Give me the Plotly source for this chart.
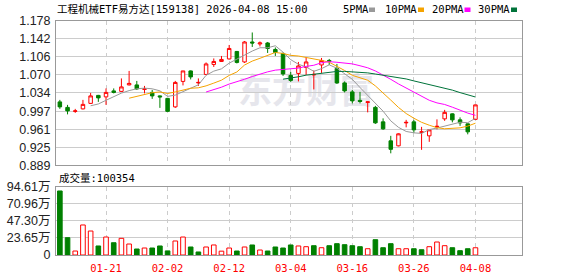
import plotly.graph_objects as go
import pandas as pd

# ---------------- data ----------------
opens = [1.016, 1.005, 0.997, 1.002, 1.013, 1.029, 1.026, 1.038, 1.037, 1.050,
         1.050, 1.041, 1.035, 1.028, 1.023, 1.006, 1.057, 1.078, 1.054, 1.071,
         1.091, 1.097, 1.102, 1.117, 1.096, 1.136, 1.132, 1.134, 1.121, 1.113,
         1.069, 1.073, 1.085, 1.070, 1.090, 1.099, 1.083, 1.054, 1.036, 1.019,
         1.015, 1.005, 0.976, 0.938, 0.928, 0.974, 0.976, 0.955, 0.948, 0.966,
         0.982, 0.992, 0.980, 0.972, 0.981]
highs = [1.020, 1.010, 1.002, 1.020, 1.034, 1.030, 1.043, 1.043, 1.063, 1.078,
         1.058, 1.048, 1.040, 1.029, 1.024, 1.058, 1.078, 1.079, 1.063, 1.095,
         1.103, 1.108, 1.130, 1.118, 1.138, 1.155, 1.137, 1.136, 1.125, 1.115,
         1.076, 1.096, 1.106, 1.079, 1.104, 1.102, 1.092, 1.057, 1.040, 1.036,
         1.017, 1.008, 0.983, 0.948, 0.953, 0.980, 0.980, 0.966, 0.960, 0.981,
         1.000, 0.993, 0.985, 0.973, 1.010]
lows = [1.002, 0.991, 0.994, 1.001, 1.012, 1.016, 1.010, 1.033, 1.036, 1.049,
        1.040, 1.033, 1.022, 1.004, 0.996, 1.004, 1.049, 1.061, 1.048, 1.070,
        1.086, 1.096, 1.101, 1.093, 1.094, 1.126, 1.127, 1.114, 1.108, 1.068,
        1.056, 1.057, 1.070, 1.041, 1.074, 1.090, 1.052, 1.035, 1.013, 1.013,
        0.995, 0.972, 0.960, 0.913, 0.927, 0.965, 0.954, 0.920, 0.936, 0.961,
        0.978, 0.975, 0.968, 0.951, 0.981]
closes = [1.006, 0.998, 0.998, 1.011, 1.028, 1.024, 1.035, 1.035, 1.046, 1.053,
          1.042, 1.042, 1.028, 1.026, 0.997, 1.055, 1.078, 1.066, 1.055, 1.092,
          1.097, 1.101, 1.123, 1.095, 1.136, 1.134, 1.134, 1.123, 1.115, 1.072,
          1.059, 1.088, 1.096, 1.071, 1.099, 1.097, 1.054, 1.038, 1.018, 1.017,
          1.016, 0.974, 0.962, 0.921, 0.952, 0.975, 0.960, 0.956, 0.960, 0.967,
          0.995, 0.980, 0.974, 0.956, 1.010]
volumes = [887000, 240000, 55000, 416000, 332000, 125000, 249000, 170000, 231000, 152000,
           83000, 97000, 97000, 125000, 57000, 194000, 249000, 111000, 42000, 111000,
           139000, 53000, 97000, 55000, 111000, 139000, 69000, 55000, 111000, 97000,
           139000, 125000, 115000, 129000, 101000, 129000, 157000, 143000, 129000, 115000,
           87000, 212000, 101000, 157000, 87000, 87000, 87000, 73000, 115000, 180000,
           129000, 101000, 60000, 87000, 100354]
vol_up = [0, 0, 1, 1, 1, 0, 1, 0, 1, 1,
          0, 1, 0, 0, 0, 1, 1, 0, 0, 1,
          1, 1, 1, 0, 1, 0, 1, 0, 0, 0,
          0, 1, 1, 0, 1, 0, 0, 0, 0, 0,
          1, 0, 0, 0, 1, 1, 0, 0, 1, 1,
          1, 0, 0, 0, 1]
ma_windows = [5, 10, 20, 30]
ma_names = ["5PMA", "10PMA", "20PMA", "30PMA"]
date_tick_pos = [6, 14, 22, 30, 38, 46, 54]
date_tick_labels = ["01-21", "02-02", "02-12", "03-04", "03-16", "03-26", "04-08"]
price_tick_labels = ["0.889", "0.925", "0.961", "0.997", "1.034", "1.070", "1.106", "1.142", "1.178"]
vol_tick_vals = [0, 236500, 473000, 709600, 946100]
vol_tick_labels = ["0", "23.65万", "47.30万", "70.96万", "94.61万"]
title_text = "工程机械ETF易方达[159138] 2026-04-08 15:00"
vol_label = "成交量:100354"

# ---------------- styling / layout ----------------
RED = "#ff0000"
GREEN = "#008000"
MA_COLORS = ["#999999", "#f5a300", "#ff00ff", "#00733a"]
GRID = "#cccccc"
BORDER = "#999999"
MONO = "DejaVu Sans Mono, Noto Sans CJK SC"
SANS = "Liberation Sans, Arial, Noto Sans CJK SC"

W, H = 578, 276
ML, MR, MT, MB = 56, 56, 21, 21
PW, PH = W - ML - MR, H - MT - MB


def px_x(x):
    return (x - ML) / PW


def px_y(y):
    return (H - MB - y) / PH


x = list(range(len(closes)))
xr = [-0.5, 60.05]
close_s = pd.Series(closes)

fig = go.Figure()
fig.add_trace(go.Candlestick(
    x=x, open=opens, high=highs, low=lows, close=closes,
    increasing=dict(line=dict(color=RED, width=1), fillcolor="white"),
    decreasing=dict(line=dict(color=GREEN, width=1), fillcolor=GREEN),
    whiskerwidth=0, hoverinfo="skip", showlegend=False,
    xaxis="x", yaxis="y"))
for w, c in zip(ma_windows, MA_COLORS):
    ma = close_s.rolling(w, min_periods=w).mean()
    fig.add_trace(go.Scatter(x=x, y=ma, mode="lines", line=dict(color=c, width=1),
                             hoverinfo="skip", showlegend=False, xaxis="x", yaxis="y"))

fig.add_trace(go.Bar(
    x=x, y=volumes, width=0.6,
    marker=dict(color=["white" if u else GREEN for u in vol_up],
                line=dict(color=[RED if u else GREEN for u in vol_up], width=1)),
    hoverinfo="skip", showlegend=False, xaxis="x2", yaxis="y2"))

axis_common = dict(showline=True, mirror=True, linecolor=BORDER, linewidth=1,
                   zeroline=False, fixedrange=True, automargin=False)

fig.update_layout(
    template="none",
    width=W, height=H, margin=dict(l=ML, r=MR, t=MT, b=MB, pad=0),
    paper_bgcolor="white", plot_bgcolor="white",
    font=dict(family=SANS, size=12, color="#222222"),
    boxgap=0.35,
    xaxis=dict(domain=[0, 1], range=xr, anchor="y", tickvals=date_tick_pos,
               showticklabels=False, showgrid=True, gridcolor=GRID, gridwidth=1,
               griddash="4px,4px", ticks="", rangeslider=dict(visible=False), **axis_common),
    yaxis=dict(domain=[px_y(165.3), 1], range=[0.889, 1.178], anchor="x",
               tickvals=[float(t) for t in price_tick_labels], ticktext=price_tick_labels,
               tickfont=dict(family=SANS, size=12.5, color="#222222"),
               showgrid=True, gridcolor=GRID, gridwidth=1, ticks="outside", ticklen=2,
               tickcolor="rgba(0,0,0,0)", **axis_common),
    xaxis2=dict(domain=[0, 1], range=xr, anchor="y2", tickvals=date_tick_pos,
                ticktext=date_tick_labels, tickfont=dict(family=MONO, size=10.5, color=RED),
                showgrid=True, gridcolor=GRID, gridwidth=1, griddash="4px,4px",
                ticks="outside", ticklen=3, tickcolor="rgba(0,0,0,0)", **axis_common),
    yaxis2=dict(domain=[0, px_y(186.7)], range=[0, 946100], anchor="x2",
                tickvals=vol_tick_vals, ticktext=vol_tick_labels,
                tickfont=dict(family=SANS, size=12.5, color="#222222"),
                showgrid=True, gridcolor=GRID, gridwidth=1, ticks="outside", ticklen=2,
                tickcolor="rgba(0,0,0,0)", **axis_common),
)

annotations = [
    dict(text=title_text, x=px_x(55), y=px_y(9.5), xref="paper", yref="paper",
         xanchor="left", yanchor="middle", align="left", showarrow=False,
         font=dict(family=MONO, size=10.5, color="#000000")),
    dict(text=vol_label, x=px_x(56.5), y=px_y(177.5), xref="paper", yref="paper",
         xanchor="left", yanchor="middle", align="left", showarrow=False,
         font=dict(family=MONO, size=10.5, color="#000000")),
]
shapes = []
legend_x = [342.5, 384, 431, 477.5]
square_x = [369, 418, 464.5, 511]
for name, c, lx, sx in zip(ma_names, MA_COLORS, legend_x, square_x):
    annotations.append(dict(text=name, x=px_x(lx - 1.5), y=px_y(9.5), xref="paper", yref="paper",
                            xanchor="left", yanchor="middle", align="left", showarrow=False,
                            font=dict(family=MONO, size=10.5, color="#000000")))
    shapes.append(dict(type="rect", xref="paper", yref="paper",
                       x0=px_x(sx), x1=px_x(sx + 6), y0=px_y(12), y1=px_y(7.5),
                       fillcolor=c, line=dict(width=0)))

# watermark, drawn beneath the grid and data
shapes.append(dict(type="rect", xref="paper", yref="paper", layer="below",
                   x0=px_x(236), x1=px_x(376), y0=px_y(112), y1=px_y(74),
                   fillcolor="rgba(0,0,0,0)", line=dict(width=0),
                   label=dict(text="东方财富", textposition="middle center",
                              font=dict(family="Noto Sans CJK SC", size=34,
                                        color="#e6e6ec", weight="bold"))))

fig.update_layout(annotations=annotations, shapes=shapes)
fig.write_html("out.html")
